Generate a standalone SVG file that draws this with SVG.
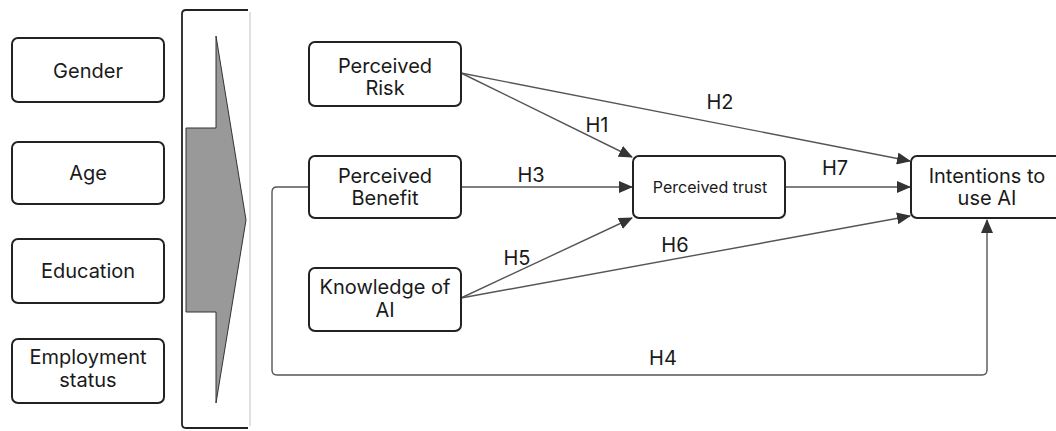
<svg xmlns="http://www.w3.org/2000/svg" width="1056" height="431" viewBox="0 0 1056 431">
<style>
.box{fill:#fff;stroke:#222;stroke-width:2}
.t{font-family:Inter,"Liberation Sans",sans-serif;font-size:20px;fill:#1a1a1a;text-anchor:middle}
.ts{font-family:Inter,"Liberation Sans",sans-serif;font-size:16px;fill:#1a1a1a;text-anchor:middle}
.e{fill:none;stroke:#555;stroke-width:1.4}
</style>
<defs>
<marker id="ah" viewBox="0 0 14 12" refX="13" refY="6" markerWidth="14" markerHeight="12" markerUnits="userSpaceOnUse" orient="auto">
<path d="M0,0 L14,6 L0,12 Z" fill="#333"/>
</marker>
</defs>
<rect width="1056" height="431" fill="#fff"/>
<g id="panel">
<line x1="250" y1="12" x2="250" y2="426" stroke="#ccc" stroke-width="1.2"/>
<path d="M248,10 L186,10 Q182,10 182,14 L182,424 Q182,428 186,428 L248,428" fill="none" stroke="#222" stroke-width="1.8"/>
<polygon points="216,36 246,220 216,403 216,312 186,312 186,128 216,128" fill="#999" stroke="#333" stroke-width="1"/>
</g>
<g id="gender"><rect class="box" x="12" y="38" width="152" height="64" rx="6"/><text class="t" x="88" y="78">Gender</text></g>
<g id="age"><rect class="box" x="12" y="142" width="152" height="62" rx="6"/><text class="t" x="88" y="180">Age</text></g>
<g id="education"><rect class="box" x="12" y="239" width="152" height="64" rx="6"/><text class="t" x="88" y="278">Education</text></g>
<g id="employment"><rect class="box" x="12" y="339" width="152" height="64" rx="6"/><text class="t" x="88" y="364">Employment</text><text class="t" x="88" y="387">status</text></g>
<g id="connectors">
<line class="e" x1="461" y1="73" x2="632" y2="157" marker-end="url(#ah)"/>
<line class="e" x1="461" y1="73" x2="910" y2="161" marker-end="url(#ah)"/>
<line class="e" x1="461" y1="187" x2="632" y2="187" marker-end="url(#ah)"/>
<line class="e" x1="461" y1="298" x2="632" y2="218" marker-end="url(#ah)"/>
<line class="e" x1="461" y1="298" x2="910" y2="216" marker-end="url(#ah)"/>
<line class="e" x1="785" y1="187" x2="910" y2="187" marker-end="url(#ah)"/>
<path class="e" d="M309,187 L277,187 Q272,187 272,192 L272,370 Q272,375 277,375 L982,375 Q987,375 987,370 L987,220" marker-end="url(#ah)"/>
<text class="t" x="720" y="109">H2</text>
<text class="t" x="597" y="132">H1</text>
<text class="t" x="531" y="182">H3</text>
<text class="t" x="835" y="175">H7</text>
<text class="t" x="517" y="265">H5</text>
<text class="t" x="675" y="252">H6</text>
<text class="t" x="663" y="365">H4</text>
</g>
<g id="risk"><rect class="box" x="309" y="42" width="152" height="64" rx="6"/><text class="t" x="385" y="73">Perceived</text><text class="t" x="385" y="95">Risk</text></g>
<g id="benefit"><rect class="box" x="309" y="156" width="152" height="62" rx="6"/><text class="t" x="385" y="183">Perceived</text><text class="t" x="385" y="205">Benefit</text></g>
<g id="knowledge"><rect class="box" x="309" y="268" width="152" height="63" rx="6"/><text class="t" x="385" y="294">Knowledge of</text><text class="t" x="385" y="317">AI</text></g>
<g id="trust"><rect class="box" x="633" y="156" width="152" height="62" rx="6"/><text class="ts" x="710" y="193">Perceived trust</text></g>
<g id="intentions"><rect class="box" x="911" y="156" width="152" height="62" rx="6"/><text class="t" x="987" y="183">Intentions to</text><text class="t" x="987" y="205">use AI</text></g>
</svg>
